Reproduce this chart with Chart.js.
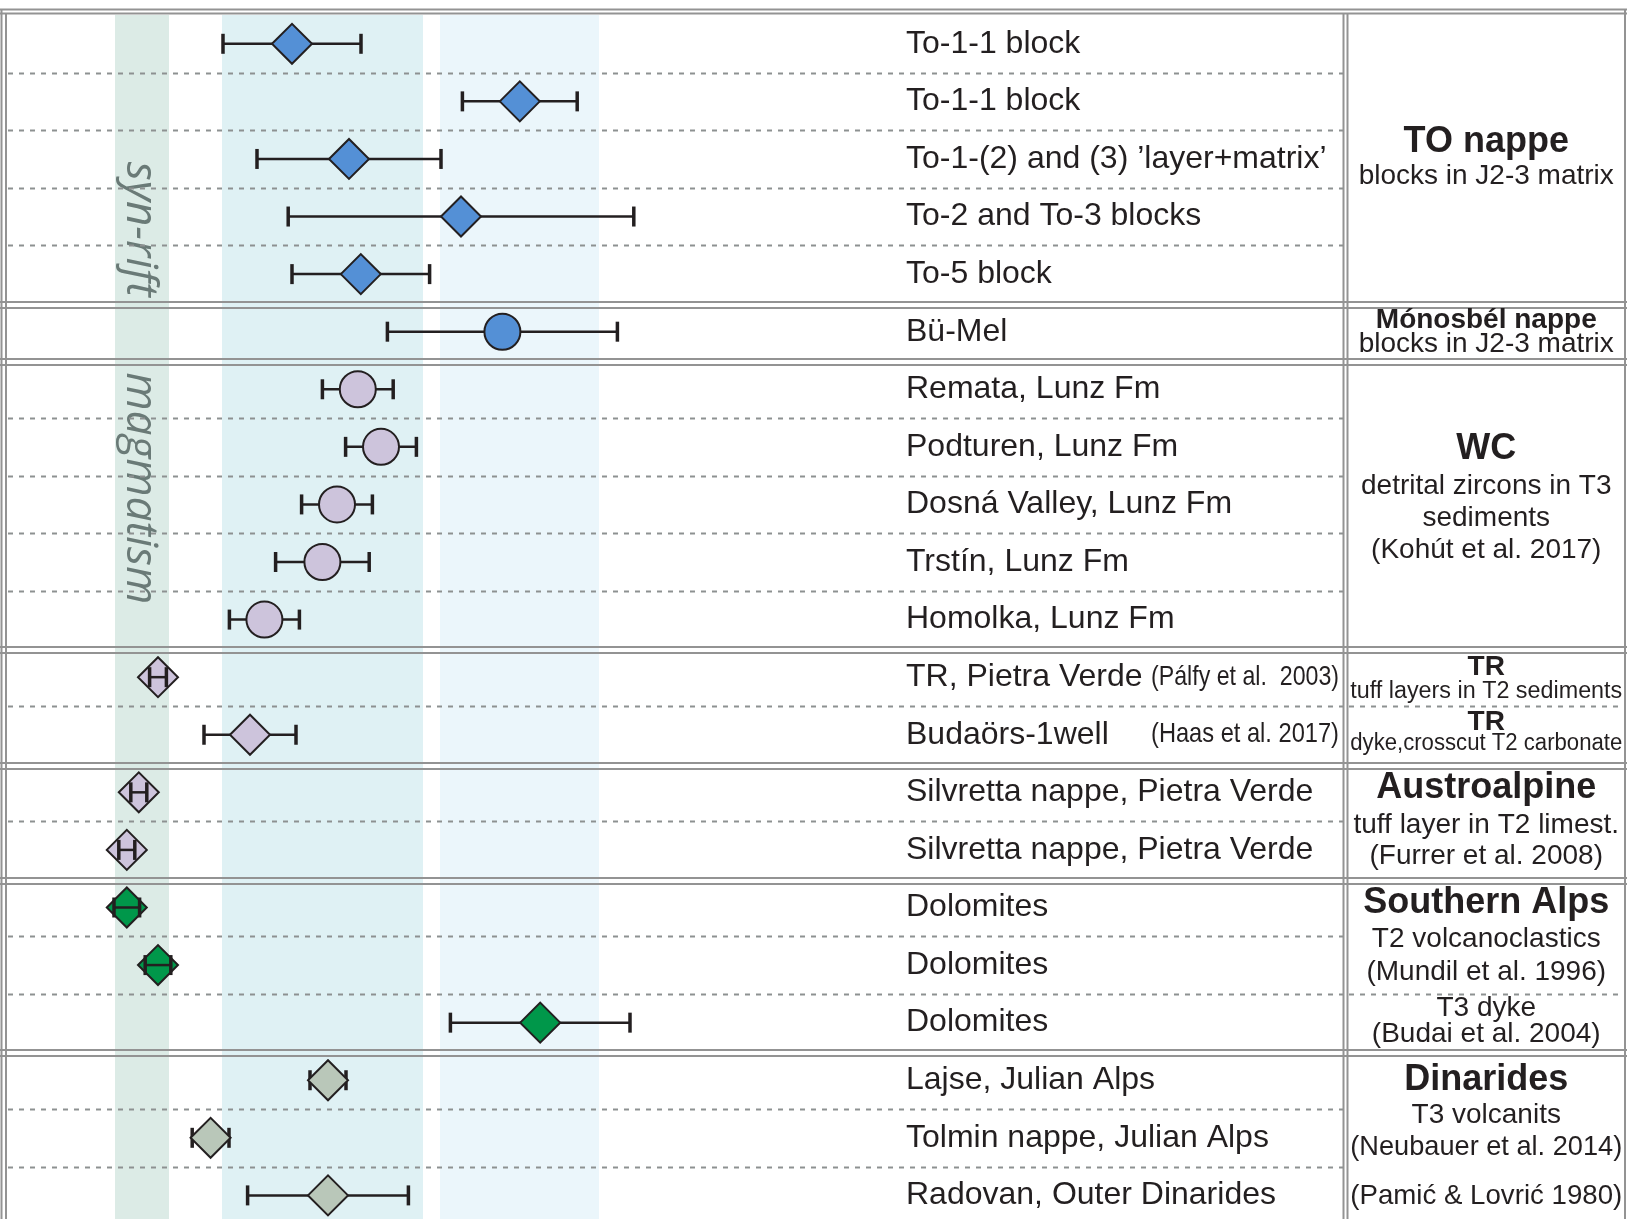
<!DOCTYPE html>
<html lang="en">
<head>
  <meta charset="UTF-8" />
  <title>Triassic magmatic ages</title>
  <script src="https://cdn.jsdelivr.net/npm/chart.js"></script>
  <style>
    body {
      margin: 0;
      background: #ffffff;
    }

    #wrap {
      width: 1627px;
      height: 1219px;
    }
  </style>
</head>
<body>

  <div id="wrap">
    <canvas id="agesChart" width="1627" height="1219"></canvas>
  </div>

  <script>
    // samples, top row first (age in Ma, +/- error)
    const sampleLabels = [
      'To-1-1 block', 'To-1-1 block', 'To-1-(2) and (3) \u2019layer+matrix\u2019', 'To-2 and To-3 blocks', 'To-5 block',
      'B\u00fc-Mel',
      'Remata, Lunz Fm', 'Podturen, Lunz Fm', 'Dosn\u00e1 Valley, Lunz Fm', 'Trst\u00edn, Lunz Fm', 'Homolka, Lunz Fm',
      'TR, Pietra Verde', 'Buda\u00f6rs-1well',
      'Silvretta nappe, Pietra Verde', 'Silvretta nappe, Pietra Verde',
      'Dolomites', 'Dolomites', 'Dolomites',
      'Lajse, Julian Alps', 'Tolmin nappe, Julian Alps', 'Radovan, Outer Dinarides'
    ];
    const sampleAge = [233.65, 222.26, 230.80, 225.20, 230.21, 223.13, 230.36, 229.20, 231.40, 232.13, 235.03,
      240.35, 235.75, 241.31, 241.91, 241.91, 240.35, 221.24, 231.85, 237.72, 231.85];
    const sampleErr = [3.45, 2.87, 4.60, 8.64, 3.44, 5.75, 1.77, 1.77, 1.77, 2.34, 1.75,
      0.42, 2.30, 0.40, 0.40, 0.64, 0.64, 4.49, 0.90, 0.92, 4.02];
    const sampleRefs = ['', '', '', '', '', '', '', '', '', '', '',
      '(P\u00e1lfy et al.  2003)', '(Haas et al. 2017)', '', '', '', '', '', '', '', ''];

    // tectonic units and which unit each row belongs to
    const unitNames = ['TO nappe', 'M\u00f3nosb\u00e9l nappe', 'WC', 'TR', 'Austroalpine', 'Southern Alps', 'Dinarides'];
    const sampleUnit = [0, 0, 0, 0, 0, 1, 2, 2, 2, 2, 2, 3, 3, 4, 4, 5, 5, 5, 6, 6, 6];

    // shaded age intervals (Ma)
    const bandFrom = [242.5, 237.15, 226.25];
    const bandTo = [239.8, 227.1, 218.3];
    const bandWords = ['syn-rift', 'magmatism'];

    // right-hand description column: first/last row and text
    const panelFirst = [0, 5, 6, 11, 12, 13, 15, 17, 18];
    const panelLast = [4, 5, 10, 11, 12, 14, 16, 17, 20];
    const panelTitles = ['TO nappe', 'M\u00f3nosb\u00e9l nappe', 'WC', 'TR', 'TR', 'Austroalpine', 'Southern Alps', '', 'Dinarides'];
    const panelLines = [
      ['blocks in J2-3 matrix'],
      ['blocks in J2-3 matrix'],
      ['detrital zircons in T3', 'sediments', '(Koh\u00fat et al. 2017)'],
      ['tuff layers in T2 sediments'],
      ['dyke,crosscut T2 carbonate'],
      ['tuff layer in T2 limest.', '(Furrer et al. 2008)'],
      ['T2 volcanoclastics', '(Mundil et al. 1996)'],
      ['T3 dyke', '(Budai et al. 2004)'],
      ['T3 volcanits', '(Neubauer et al. 2014)', '(Pami\u0107 & Lovri\u0107 1980)']
    ];

    // ---- styling ----
    const unitStyle = [
      { shape: 'rectRot', color: '#5490d6', r: 20 },
      { shape: 'circle', color: '#5490d6', r: 18 },
      { shape: 'circle', color: '#cdc4dc', r: 18 },
      { shape: 'rectRot', color: '#cdc4dc', r: 20 },
      { shape: 'rectRot', color: '#cdc4dc', r: 20 },
      { shape: 'rectRot', color: '#00974a', r: 20 },
      { shape: 'rectRot', color: '#b9c7b9', r: 20 }
    ];
    const bandColors = ['#dcebe6', '#dff1f4', '#ebf6fb'];
    // rows whose short bar is drawn over the marker (the "H" look)
    const barOnTop = [11, 13, 14, 15, 16];
    // title size, title offset, line size, line offsets (px from block centre)
    const panelLayout = [
      [36, -17, 28, [17]],
      [28, -11, 28, [13]],
      [36, -55, 28, [-18, 14, 46]],
      [28, -10, 23.5, [14.5]],
      [28, -12.5, 23.5, [9]],
      [36, -33, 28, [4, 35]],
      [36, -33, 28, [2.5, 36]],
      [0, 0, 28, [-14, 11.5]],
      [36, -57.5, 28, [-22.5, 9.5, 58.5]]
    ];
    const ink = '#231f20';
    const frameGrey = '#939393';
    const sans = '"Liberation Sans", Arial, sans-serif';

    const datasets = unitNames.map((name, u) => ({
      label: name,
      data: sampleAge.map((a, i) => ({ x: a, y: i })).filter((p, i) => sampleUnit[i] === u),
      pointStyle: unitStyle[u].shape,
      pointRadius: unitStyle[u].r,
      pointHoverRadius: unitStyle[u].r,
      backgroundColor: unitStyle[u].color,
      borderColor: ink,
      borderWidth: 2,
      showLine: false
    }));

    function hLine(ctx, x0, x1, y) {
      ctx.beginPath();
      ctx.moveTo(x0, y);
      ctx.lineTo(x1, y);
      ctx.stroke();
    }

    function vLine(ctx, x, y0, y1) {
      ctx.beginPath();
      ctx.moveTo(x, y0);
      ctx.lineTo(x, y1);
      ctx.stroke();
    }

    function drawBars(chart, onTop) {
      const { ctx, scales: { x, y } } = chart;
      ctx.save();
      ctx.strokeStyle = ink;
      sampleAge.forEach((age, i) => {
        if (barOnTop.includes(i) !== onTop) return;
        const xl = x.getPixelForValue(age + sampleErr[i]);
        const xr = x.getPixelForValue(age - sampleErr[i]);
        const yy = y.getPixelForValue(i);
        ctx.lineWidth = 2.5;
        hLine(ctx, xl, xr, yy);
        ctx.lineWidth = 3.5;
        vLine(ctx, xl, yy - 10, yy + 10);
        vLine(ctx, xr, yy - 10, yy + 10);
      });
      ctx.restore();
    }

    const panelPlugin = {
      id: 'panelPlugin',
      beforeDatasetsDraw(chart) {
        const { ctx, chartArea: a, scales: { x, y } } = chart;
        const W = chart.width;
        ctx.save();

        // shaded intervals
        bandFrom.forEach((f, i) => {
          const x0 = x.getPixelForValue(f);
          const x1 = x.getPixelForValue(bandTo[i]);
          ctx.fillStyle = bandColors[i];
          ctx.fillRect(x0, a.top, x1 - x0, chart.height - a.top);
        });

        // "syn-rift magmatism" written down the first band
        const bx = x.getPixelForValue((bandFrom[0] + bandTo[0]) / 2) - 2;
        ctx.fillStyle = '#6a7a77';
        ctx.font = 'italic 44px "Open Sans", sans-serif';
        ctx.textAlign = 'center';
        ctx.textBaseline = 'middle';
        [3.22, 7.72].forEach((rowPos, k) => {
          ctx.save();
          ctx.translate(bx, y.getPixelForValue(rowPos));
          ctx.rotate(Math.PI / 2);
          ctx.fillText(bandWords[k], 0, 0);
          ctx.restore();
        });

        // dashed row dividers
        ctx.strokeStyle = '#8d9191';
        ctx.lineWidth = 2;
        ctx.setLineDash([5, 6]);
        for (let r = 0; r < sampleLabels.length - 1; r++) {
          if (sampleUnit[r] !== sampleUnit[r + 1]) continue;
          const yy = Math.round(y.getPixelForValue(r + 0.5)) + 0.5;
          hLine(ctx, a.left + 3, a.right - 2, yy);
          if (panelLast.includes(r)) hLine(ctx, a.right + 4, W - 3, yy);
        }
        ctx.setLineDash([]);

        // double lines between units and the frame
        ctx.strokeStyle = frameGrey;
        ctx.lineWidth = 2;
        for (let r = 0; r < sampleLabels.length - 1; r++) {
          if (sampleUnit[r] === sampleUnit[r + 1]) continue;
          const yy = Math.round(y.getPixelForValue(r + 0.5)) + 2;
          hLine(ctx, 0, W, yy - 3);
          hLine(ctx, 0, W, yy + 3);
        }
        hLine(ctx, 0, W, a.top - 5.5);
        hLine(ctx, 0, W, a.top - 1.5);
        vLine(ctx, a.left - 3.5, a.top - 6, chart.height);
        vLine(ctx, a.left + 1, a.top - 2, chart.height);
        vLine(ctx, a.right - 1.5, a.top - 2, chart.height);
        vLine(ctx, a.right + 2.5, a.top - 2, chart.height);
        vLine(ctx, W - 2, a.top - 6, chart.height);

        ctx.restore();
        drawBars(chart, false);
      },
      afterDatasetsDraw(chart) {
        const { ctx, chartArea: a, scales: { y } } = chart;
        drawBars(chart, true);
        ctx.save();
        ctx.fillStyle = ink;
        ctx.textBaseline = 'middle';

        // row labels
        ctx.textAlign = 'left';
        ctx.font = '32px ' + sans;
        sampleLabels.forEach((lab, i) => {
          ctx.fillText(lab, 906, y.getPixelForValue(i));
        });
        ctx.textAlign = 'right';
        ctx.font = '28px ' + sans;
        sampleRefs.forEach((ref, i) => {
          if (ref) ctx.fillText(ref, a.right - 6, y.getPixelForValue(i), 188);
        });

        // description column
        const cx = (a.right + 2.5 + chart.width - 2) / 2;
        ctx.textAlign = 'center';
        panelTitles.forEach((title, k) => {
          const [ts, tdy, ls, dys] = panelLayout[k];
          const cy = y.getPixelForValue((panelFirst[k] + panelLast[k]) / 2);
          if (title) {
            ctx.font = 'bold ' + ts + 'px ' + sans;
            ctx.fillText(title, cx, cy + tdy);
          }
          ctx.font = ls + 'px ' + sans;
          panelLines[k].forEach((line, j) => {
            ctx.fillText(line, cx, cy + dys[j], 272);
          });
        });
        ctx.restore();
      }
    };

    new Chart(document.getElementById('agesChart').getContext('2d'), {
      type: 'scatter',
      data: { datasets },
      options: {
        responsive: false,
        devicePixelRatio: 1,
        animation: false,
        events: [],
        layout: { autoPadding: false, padding: { left: 5, right: 282, top: 15, bottom: 0 } },
        plugins: {
          legend: { display: false },
          tooltip: { enabled: false }
        },
        scales: {
          x: { type: 'linear', min: 181, max: 248, reverse: true, display: false },
          y: { type: 'linear', min: -0.5, max: 20.41, reverse: true, display: false }
        }
      },
      plugins: [panelPlugin]
    });
  </script>
</body>
</html>
